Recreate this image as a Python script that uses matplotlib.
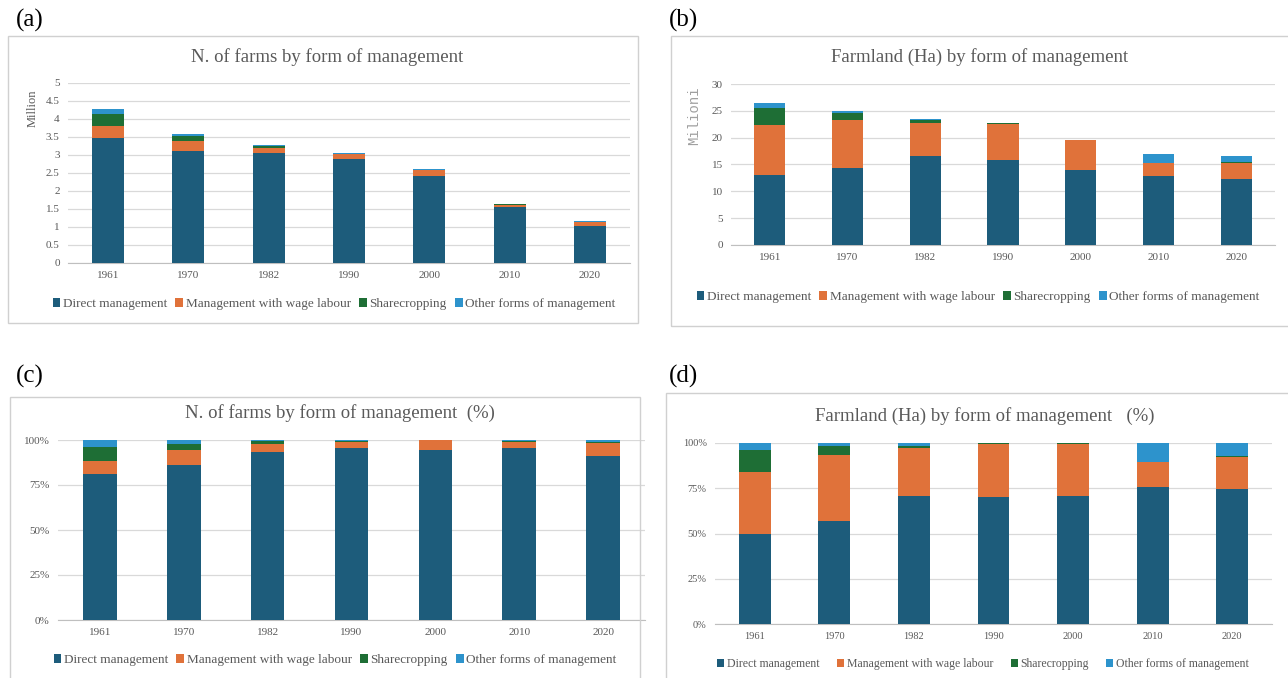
import numpy as np
import matplotlib
matplotlib.use("Agg")
import matplotlib.pyplot as plt
from matplotlib.patches import Rectangle
from matplotlib.ticker import FuncFormatter

# ---- data ----
years = ["1961", "1970", "1982", "1990", "2000", "2010", "2020"]
series = ["Direct management", "Management with wage labour", "Sharecropping", "Other forms of management"]
colors = ["#1D5C7B", "#E0723A", "#1E6E35", "#2D93CC"]

# (a) number of farms, million
farms_direct = [3.48, 3.12, 3.06, 2.90, 2.43, 1.55, 1.04]
farms_wage = [0.33, 0.28, 0.14, 0.12, 0.15, 0.07, 0.09]
farms_share = [0.32, 0.13, 0.05, 0.02, 0.01, 0.01, 0.01]
farms_other = [0.16, 0.05, 0.02, 0.01, 0.01, 0.02, 0.02]

# (b) farmland, million ha
land_direct = [13.1, 14.4, 16.5, 15.9, 13.9, 12.8, 12.3]
land_wage = [9.2, 8.9, 6.3, 6.7, 5.6, 2.4, 3.0]
land_share = [3.3, 1.3, 0.4, 0.1, 0.05, 0.05, 0.1]
land_other = [0.9, 0.4, 0.3, 0.02, 0.02, 1.7, 1.1]

# (c) farms, %
farms_pct_direct = [81.0, 86.0, 93.5, 95.5, 94.5, 95.5, 91.0]
farms_pct_wage = [7.5, 8.5, 4.5, 3.5, 5.5, 3.5, 7.5]
farms_pct_share = [7.5, 3.5, 1.3, 0.7, 0.0, 0.3, 0.2]
farms_pct_other = [4.0, 2.0, 0.7, 0.3, 0.0, 0.7, 1.3]

# (d) farmland, %
land_pct_direct = [49.5, 57.0, 70.5, 70.0, 70.5, 75.5, 74.5]
land_pct_wage = [34.5, 36.5, 26.5, 29.3, 29.0, 14.0, 18.0]
land_pct_share = [12.0, 5.0, 1.5, 0.7, 0.3, 0.0, 0.3]
land_pct_other = [4.0, 1.5, 1.5, 0.0, 0.2, 10.5, 7.2]

W, H = 1288, 678
fig = plt.figure(figsize=(W / 100, H / 100), dpi=100)
fig.patch.set_facecolor("white")

serif = "Liberation Serif"
grey = "#595959"


def fx(x):
    return x / W


def fy(y):
    return 1 - y / H


def box(x0, y0, x1, y1):
    fig.add_artist(Rectangle((fx(x0), fy(y1)), fx(x1 - x0), (y1 - y0) / H,
                             transform=fig.transFigure, fill=False,
                             edgecolor="#D0D0D0", linewidth=1.0))


def panel(left, right, bottom, top, stacks, ymax, yticks, fmt, title, title_xy,
          legend_xy, letter, letter_xy, tick_size=8, leg_size=9.5, leg_space=0.6,
          ylabel=None, ylabel_xy=None, ylabel_font=None, ylabel_size=9):
    ax = fig.add_axes([fx(left), fy(bottom), fx(right - left), (bottom - top) / H])
    x = np.arange(len(years))
    base = np.zeros(len(years))
    for vals, col, name in zip(stacks, colors, series):
        ax.bar(x, vals, 0.4, bottom=base, color=col, label=name, zorder=3)
        base = base + np.array(vals)
    ax.set_xlim(-0.5, len(years) - 0.5)
    ax.set_ylim(0, ymax)
    ax.set_yticks(yticks)
    ax.yaxis.set_major_formatter(FuncFormatter(fmt))
    ax.set_xticks(x)
    ax.set_xticklabels(years)
    ax.grid(axis="y", color="#D9D9D9", linewidth=0.9, zorder=0)
    for s in ["top", "right", "left"]:
        ax.spines[s].set_visible(False)
    ax.spines["bottom"].set_color("#BFBFBF")
    ax.tick_params(axis="both", length=0, labelsize=tick_size, colors=grey, pad=6)
    for lab in ax.get_xticklabels() + ax.get_yticklabels():
        lab.set_fontfamily(serif)
    fig.text(fx(title_xy[0]), fy(title_xy[1]), title, ha="center", va="center",
             fontsize=13.5, color=grey, family=serif)
    fig.text(fx(letter_xy[0]), fy(letter_xy[1]), letter, ha="left", va="center",
             fontsize=18, color="black", family=serif)
    if ylabel:
        fig.text(fx(ylabel_xy[0]), fy(ylabel_xy[1]), ylabel, rotation=90,
                 ha="center", va="center", fontsize=ylabel_size,
                 color=grey if ylabel_font == serif else "#A0A0A0", family=ylabel_font)
    handles, labels = ax.get_legend_handles_labels()
    fig.legend(handles, labels, loc="center", bbox_to_anchor=(fx(legend_xy[0]), fy(legend_xy[1])),
               ncol=4, frameon=False, handlelength=0.6, handleheight=0.6, handletextpad=0.2,
               columnspacing=leg_space, prop={"family": serif, "size": leg_size}, labelcolor=grey)
    return ax


num_fmt = lambda v, p: ("%g" % v)
pct_fmt = lambda v, p: "%d%%" % round(v)

box(8, 36, 638, 323)
box(671, 36, 1300, 326)
box(10, 397, 640, 690)
box(666, 393, 1300, 690)

panel(68, 630, 263, 83, [farms_direct, farms_wage, farms_share, farms_other], 5,
      np.arange(0, 5.01, 0.5), num_fmt, "N. of farms by form of management", (327, 57),
      (334, 304), "(a)", (16, 20), ylabel="Million", ylabel_xy=(33, 108), ylabel_font=serif)

panel(731, 1275, 245, 84, [land_direct, land_wage, land_share, land_other], 30,
      np.arange(0, 31, 5), num_fmt, "Farmland (Ha) by form of management", (980, 57),
      (978, 297), "(b)", (669, 20), ylabel="Milioni", ylabel_xy=(694, 116),
      ylabel_font="Liberation Mono", ylabel_size=10)

panel(58, 645, 620, 440, [farms_pct_direct, farms_pct_wage, farms_pct_share, farms_pct_other], 100,
      [0, 25, 50, 75, 100], pct_fmt, "N. of farms by form of management  (%)", (340, 413),
      (335, 660), "(c)", (16, 376))

panel(715, 1272, 624, 443, [land_pct_direct, land_pct_wage, land_pct_share, land_pct_other], 100,
      [0, 25, 50, 75, 100], pct_fmt, "Farmland (Ha) by form of management   (%)", (985, 416),
      (983, 664), "(d)", (669, 376), tick_size=7.5, leg_size=8.5, leg_space=1.5)

fig.savefig("out.png", dpi=100)
